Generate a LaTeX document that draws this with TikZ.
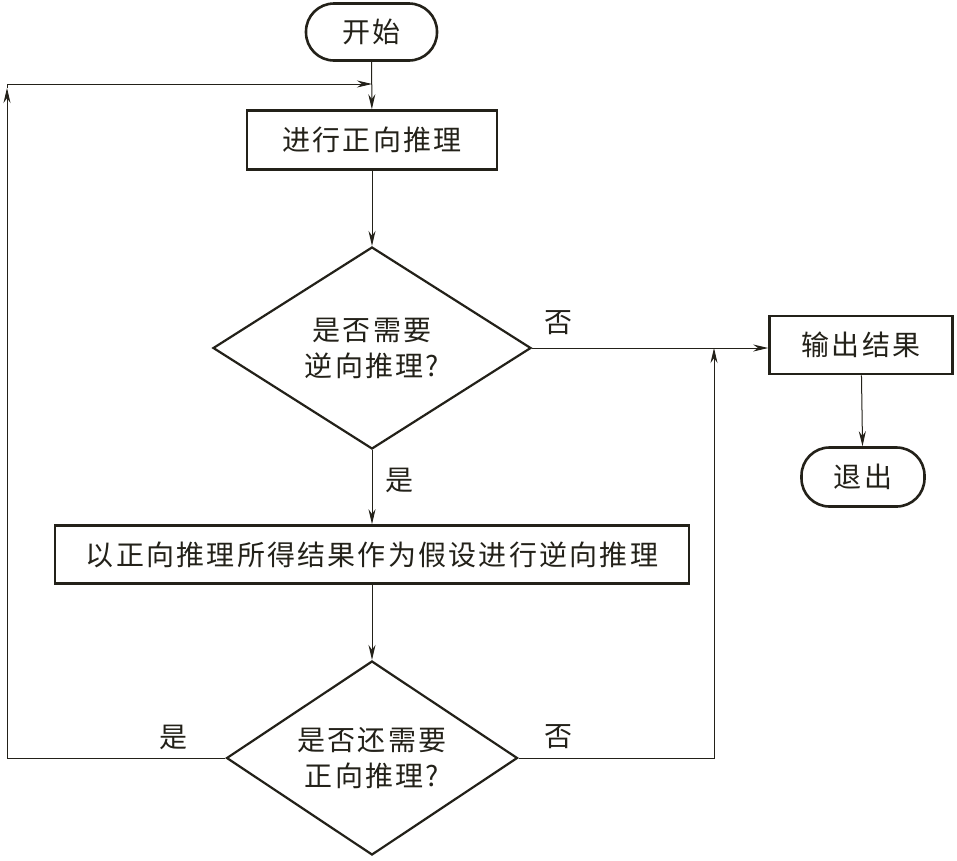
\documentclass[tikz,border=0pt]{standalone}
\usepackage{fontspec}
\setmainfont{Noto Sans CJK SC}
\usetikzlibrary{shapes.geometric,arrows.meta}
\definecolor{ink}{RGB}{35,33,25}
\tikzset{
  base/.style={draw=ink, text=ink, line width=2.6pt, align=center, inner sep=0pt,
    font=\fontsize{28}{36}\selectfont\addfontfeature{LetterSpace=8}},
  procbox/.style={base, rectangle},
  term/.style={base, rectangle, rounded corners=28pt},
  decision/.style={base, diamond, aspect=1.5, line width=2.2pt},
  conn/.style={line width=1pt, draw=ink},
  arr/.style={conn, -{Stealth[length=15pt,width=7pt]}},
  lbl/.style={text=ink, inner sep=0pt, font=\fontsize{28}{28}\selectfont},
}
\begin{document}
\begin{tikzpicture}[x=1pt,y=-1pt]
\useasboundingbox (0,0) rectangle (957,860);
\fill[white] (0,0) rectangle (957,860);

\node[term, minimum width=131, minimum height=57] (start) at (371.5,32) {开始};
\node[procbox, minimum width=250, minimum height=59] (box1) at (372,140) {进行正向推理};
\node[decision, minimum width=318, minimum height=202] (d1) at (372,348) {是否需要\\逆向推理?};
\node[procbox, minimum width=183, minimum height=58] (out) at (861,345) {输出结果};
\node[term, minimum width=123, minimum height=59] (exit) at (863,477) {退出};
\node[procbox, minimum width=634, minimum height=58] (box2) at (372,554.5) {以正向推理所得结果作为假设进行逆向推理};
\node[decision, minimum width=291, minimum height=194] (d2) at (372,758) {是否还需要\\正向推理?};

\node[lbl] (no1) at (558,323) {否};
\node[lbl] (yes1) at (399,480) {是};
\node[lbl] (yes2) at (173,737) {是};
\node[lbl] (no2) at (558,737) {否};

\coordinate (tj) at (372,84);
\coordinate (lc) at (7,84);
\coordinate (lt) at (7,88);
\coordinate (lb) at (7,758);
\coordinate (jx) at (714,0);

\draw[arr] (start) -- (box1);
\draw[arr] (box1) -- (d1);
\draw[arr] (d1) -- (box2);
\draw[arr] (box2) -- (d2);
\draw[arr] (out) -- (exit);
\draw[arr] (d1.east) -- (d1.east -| out.west);
\draw[arr] (d2.east) -| (jx |- d1.east);
\draw[arr] (d2.west) -- (lb) -- (lt);
\draw[arr] (lt) -- (lc) -- (tj);
\end{tikzpicture}
\end{document}
